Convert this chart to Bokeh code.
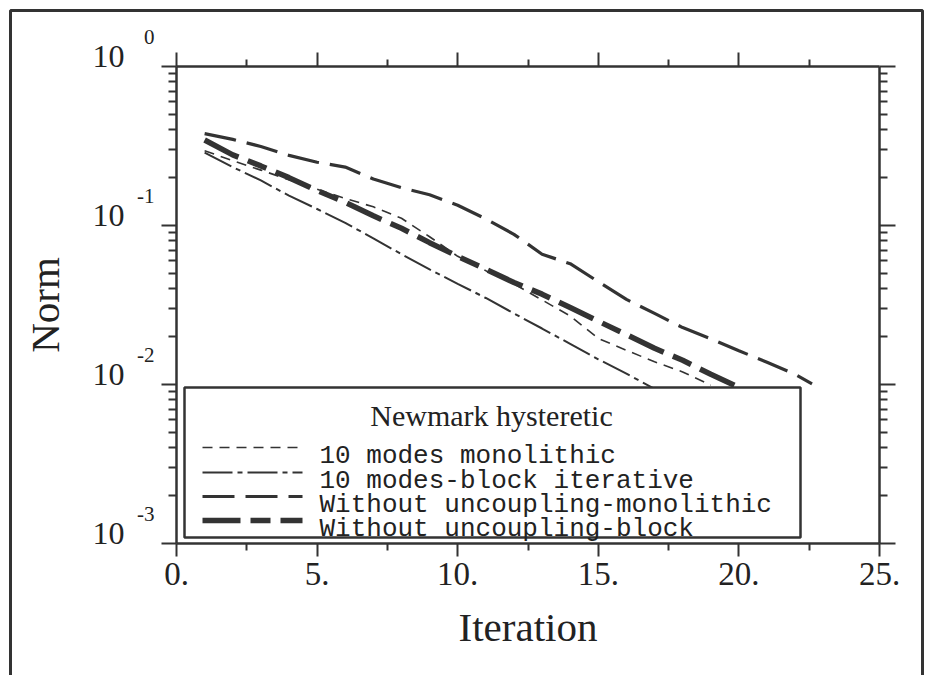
from bokeh.plotting import figure
from bokeh.models import (LinearAxis, LogAxis, FixedTicker, CustomJSTickFormatter,
                          BoxAnnotation, Label, LabelSet, Arrow,
                          ColumnDataSource, Range1d)
from bokeh.embed import file_html
from bokeh.resources import INLINE

# ---- residual norm per iteration, Newmark scheme with hysteretic damping ----
iter_modes_mono = list(range(1, 20))
norm_modes_mono = [0.295, 0.256, 0.223, 0.194, 0.169, 0.148, 0.131, 0.111, 0.085,
                   0.064, 0.052, 0.043, 0.034, 0.027, 0.0195, 0.0164, 0.0139,
                   0.0120, 0.0099]

iter_modes_block = list(range(1, 18))
norm_modes_block = [0.287, 0.233, 0.192, 0.154, 0.127, 0.104, 0.083, 0.066, 0.053,
                    0.043, 0.035, 0.028, 0.0225, 0.018, 0.0144, 0.0117, 0.0094]

iter_full_mono = list(range(1, 23)) + [22.6]
norm_full_mono = [0.378, 0.348, 0.314, 0.276, 0.250, 0.233, 0.196, 0.173, 0.156,
                  0.134, 0.110, 0.088, 0.066, 0.0575, 0.0443, 0.0343, 0.028,
                  0.0228, 0.0194, 0.0163, 0.0138, 0.0116, 0.0101]

iter_full_block = list(range(1, 21))
norm_full_block = [0.345, 0.278, 0.237, 0.200, 0.166, 0.140, 0.115, 0.096, 0.078,
                   0.064, 0.053, 0.0438, 0.037, 0.0305, 0.025, 0.0206, 0.0169,
                   0.0142, 0.0116, 0.0096]

series_labels = ["10 modes monolithic", "10 modes-block iterative",
                 "Without uncoupling-monolithic", "Without uncoupling-block"]
legend_title = "Newmark hysteretic"

x_lo, x_hi = 0.0, 25.0
y_lo, y_hi = 1e-3, 1.0
x_major = [0, 5, 10, 15, 20, 25]
x_minor = [2.5, 7.5, 12.5, 17.5, 22.5]
x_tick_labels = ["0.", "5.", "10.", "15.", "20.", "25."]
y_major = [1e-3, 1e-2, 1e-1, 1.0]
y_minor = [m * 10.0 ** k for k in (-3, -2, -1) for m in range(2, 10)]
y_base = ["10", "10", "10", "10"]
y_exponent = ["-3", "-2", "-1", "0"]

INK = "#333333"
TEXT = "#222222"
SERIF = "Liberation Serif"

# page geometry (pixels): the plotting canvas covers the whole page and the
# axes box sits inside it, so the page frame and all labels share one layer
W, H = 931, 675
BOX_L, BOX_R, BOX_T, BOX_B = 176, 879, 66, 543
ppx = (BOX_R - BOX_L) / (x_hi - x_lo)
ppd = (BOX_B - BOX_T) / 3.0  # pixels per decade
x_start = x_lo - BOX_L / ppx
x_end = x_hi + (W - BOX_R) / ppx
y_start = 10 ** (-3.0 - (H - BOX_B) / ppd)
y_end = 10 ** (0.0 + BOX_T / ppd)


def sx(px):
    return px


def sy(py):
    return H - py


p = figure(width=W, height=H, x_range=Range1d(x_start, x_end),
           y_range=Range1d(y_start, y_end), y_axis_type="log",
           x_axis_location=None, y_axis_location=None,
           output_backend="svg", toolbar_location=None,
           min_border=0, background_fill_color="white", border_fill_color="white")
p.outline_line_color = None
p.xgrid.visible = False
p.ygrid.visible = False


def style_axis(ax, major_out, minor_out):
    ax.axis_line_color = INK
    ax.axis_line_width = 2.5
    ax.major_tick_line_color = INK
    ax.minor_tick_line_color = INK
    ax.major_tick_line_width = 2
    ax.minor_tick_line_width = 2
    ax.major_tick_in = 0
    ax.minor_tick_in = 0
    ax.major_tick_out = major_out
    ax.minor_tick_out = minor_out


blank = CustomJSTickFormatter(code="return ''")

# bottom axis: iteration count
xa = LinearAxis(fixed_location=y_lo, bounds=(x_lo, x_hi),
                ticker=FixedTicker(ticks=x_major, minor_ticks=x_minor))
xa.major_label_overrides = {t: s for t, s in zip(x_major, x_tick_labels)}
style_axis(xa, 13, 7)
xa.major_label_text_font = SERIF
xa.major_label_text_font_size = "33px"
xa.major_label_text_color = TEXT
xa.major_label_standoff = 6
xa.axis_label = "Iteration"
xa.axis_label_text_font = SERIF
xa.axis_label_text_font_size = "41px"
xa.axis_label_text_font_style = "normal"
xa.axis_label_text_color = TEXT
xa.axis_label_standoff = 16
p.add_layout(xa, "below")

# left axis: norm on a log scale, decade labels drawn separately
ya = LogAxis(fixed_location=x_lo, bounds=(y_lo, y_hi),
             ticker=FixedTicker(ticks=y_major, minor_ticks=y_minor), formatter=blank)
style_axis(ya, 15, 8)
ya.axis_label = "Norm"
ya.axis_label_text_font = SERIF
ya.axis_label_text_font_size = "41px"
ya.axis_label_text_font_style = "normal"
ya.axis_label_text_color = TEXT
ya.axis_label_standoff = 94
p.add_layout(ya, "left")

top = LinearAxis(fixed_location=y_hi, bounds=(x_lo, x_hi),
                 ticker=FixedTicker(ticks=x_major[:-1], minor_ticks=x_minor),
                 formatter=blank)
style_axis(top, 14, 7)
p.add_layout(top, "above")

right = LogAxis(fixed_location=x_hi, bounds=(y_lo, y_hi),
                ticker=FixedTicker(ticks=y_major, minor_ticks=y_minor),
                formatter=blank)
style_axis(right, 16, 8)
p.add_layout(right, "right")

# decade labels 10^k
dec_src = ColumnDataSource(dict(v=y_major, base=y_base, exp=y_exponent))
p.add_layout(LabelSet(x=sx(124), y="v", x_units="screen", text="base", source=dec_src,
                      text_align="right", text_baseline="alphabetic",
                      text_font=SERIF, text_font_size="32px", text_color=TEXT))
p.add_layout(LabelSet(x=sx(154), y="v", x_units="screen", text="exp", source=dec_src,
                      y_offset=23, text_align="right", text_baseline="alphabetic",
                      text_font=SERIF, text_font_size="21px", text_color=TEXT))

# convergence curves
styles = [
    dict(line_dash="10 7", line_width=1.6),
    dict(line_dash="30 5 5 5", line_width=2.0),
    dict(line_dash="32 11", line_width=3.2),
    dict(line_dash="38 10 20 10", line_width=5.5),
]
data = [(iter_modes_mono, norm_modes_mono), (iter_modes_block, norm_modes_block),
        (iter_full_mono, norm_full_mono), (iter_full_block, norm_full_block)]
for (xs, ys), st in zip(data, styles):
    p.line(xs, ys, line_color=INK, **st)

# legend panel
p.add_layout(BoxAnnotation(left=sx(184), right=sx(800), top=sy(387), bottom=sy(537),
                           left_units="screen", right_units="screen",
                           top_units="screen", bottom_units="screen",
                           fill_color="white", fill_alpha=1.0,
                           line_color=INK, line_alpha=1.0, line_width=2.5))
p.add_layout(Label(x=sx(491), y=sy(415), x_units="screen", y_units="screen",
                   text=legend_title, text_align="center", text_baseline="alphabetic",
                   text_font=SERIF, text_font_size="30px", text_color=TEXT))
row_base = [455, 480, 504, 528]
for lab, st, yb in zip(series_labels, styles, row_base):
    ym = sy(yb - 8)
    p.add_layout(Arrow(x_start=sx(202), y_start=ym, x_end=sx(302), y_end=ym,
                       start_units="screen", end_units="screen", end=None,
                       line_color=INK, **st))
    p.add_layout(Label(x=sx(319), y=sy(yb), x_units="screen", y_units="screen",
                       text=lab, text_align="left", text_baseline="alphabetic",
                       text_font="Liberation Mono", text_font_size="26px",
                       text_color=TEXT))

# page frame, running off the bottom edge of the page
p.add_layout(BoxAnnotation(left=sx(10), right=sx(922), top=sy(10), bottom=sy(H + 40),
                           left_units="screen", right_units="screen",
                           top_units="screen", bottom_units="screen",
                           fill_alpha=0.0, line_color=INK, line_alpha=1.0,
                           line_width=3))

open("out.html", "w").write(file_html(p, INLINE))
